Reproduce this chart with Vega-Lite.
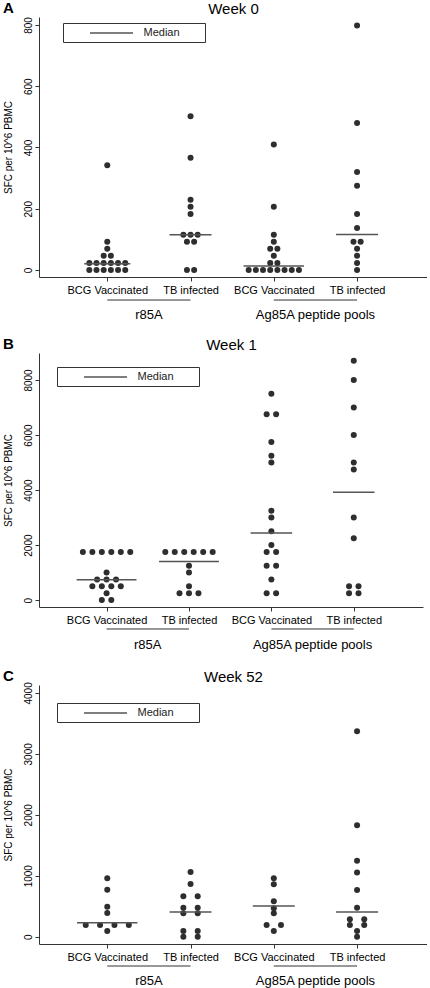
{
"$schema": "https://vega.github.io/schema/vega-lite/v6.json",
"padding": {"left": 3, "top": 1, "right": 0, "bottom": 0},
"autosize": {"type": "pad"},
"config": {
  "font": "Liberation Sans",
  "view": {"stroke": null},
  "axis": {"grid": false, "domainColor": "#333", "tickColor": "#333", "labelColor": "#000", "titleColor": "#000", "titleFontWeight": "normal", "domainWidth": 1, "tickWidth": 1},
  "title": {"color": "#000"}
},
"datasets": {"sfc": [
{"week":"Week 0","antigen":"r85A","cohort":"BCG Vaccinated","sfc":0},
{"week":"Week 0","antigen":"r85A","cohort":"BCG Vaccinated","sfc":0},
{"week":"Week 0","antigen":"r85A","cohort":"BCG Vaccinated","sfc":0},
{"week":"Week 0","antigen":"r85A","cohort":"BCG Vaccinated","sfc":0},
{"week":"Week 0","antigen":"r85A","cohort":"BCG Vaccinated","sfc":0},
{"week":"Week 0","antigen":"r85A","cohort":"BCG Vaccinated","sfc":0},
{"week":"Week 0","antigen":"r85A","cohort":"BCG Vaccinated","sfc":23},
{"week":"Week 0","antigen":"r85A","cohort":"BCG Vaccinated","sfc":23},
{"week":"Week 0","antigen":"r85A","cohort":"BCG Vaccinated","sfc":23},
{"week":"Week 0","antigen":"r85A","cohort":"BCG Vaccinated","sfc":23},
{"week":"Week 0","antigen":"r85A","cohort":"BCG Vaccinated","sfc":23},
{"week":"Week 0","antigen":"r85A","cohort":"BCG Vaccinated","sfc":23},
{"week":"Week 0","antigen":"r85A","cohort":"BCG Vaccinated","sfc":46},
{"week":"Week 0","antigen":"r85A","cohort":"BCG Vaccinated","sfc":46},
{"week":"Week 0","antigen":"r85A","cohort":"BCG Vaccinated","sfc":69},
{"week":"Week 0","antigen":"r85A","cohort":"BCG Vaccinated","sfc":92},
{"week":"Week 0","antigen":"r85A","cohort":"BCG Vaccinated","sfc":342},
{"week":"Week 0","antigen":"r85A","cohort":"TB infected","sfc":0},
{"week":"Week 0","antigen":"r85A","cohort":"TB infected","sfc":0},
{"week":"Week 0","antigen":"r85A","cohort":"TB infected","sfc":92},
{"week":"Week 0","antigen":"r85A","cohort":"TB infected","sfc":92},
{"week":"Week 0","antigen":"r85A","cohort":"TB infected","sfc":115},
{"week":"Week 0","antigen":"r85A","cohort":"TB infected","sfc":115},
{"week":"Week 0","antigen":"r85A","cohort":"TB infected","sfc":115},
{"week":"Week 0","antigen":"r85A","cohort":"TB infected","sfc":183},
{"week":"Week 0","antigen":"r85A","cohort":"TB infected","sfc":206},
{"week":"Week 0","antigen":"r85A","cohort":"TB infected","sfc":229},
{"week":"Week 0","antigen":"r85A","cohort":"TB infected","sfc":366},
{"week":"Week 0","antigen":"r85A","cohort":"TB infected","sfc":502},
{"week":"Week 0","antigen":"Ag85A peptide pools","cohort":"BCG Vaccinated","sfc":0},
{"week":"Week 0","antigen":"Ag85A peptide pools","cohort":"BCG Vaccinated","sfc":0},
{"week":"Week 0","antigen":"Ag85A peptide pools","cohort":"BCG Vaccinated","sfc":0},
{"week":"Week 0","antigen":"Ag85A peptide pools","cohort":"BCG Vaccinated","sfc":0},
{"week":"Week 0","antigen":"Ag85A peptide pools","cohort":"BCG Vaccinated","sfc":0},
{"week":"Week 0","antigen":"Ag85A peptide pools","cohort":"BCG Vaccinated","sfc":0},
{"week":"Week 0","antigen":"Ag85A peptide pools","cohort":"BCG Vaccinated","sfc":0},
{"week":"Week 0","antigen":"Ag85A peptide pools","cohort":"BCG Vaccinated","sfc":0},
{"week":"Week 0","antigen":"Ag85A peptide pools","cohort":"BCG Vaccinated","sfc":23},
{"week":"Week 0","antigen":"Ag85A peptide pools","cohort":"BCG Vaccinated","sfc":23},
{"week":"Week 0","antigen":"Ag85A peptide pools","cohort":"BCG Vaccinated","sfc":46},
{"week":"Week 0","antigen":"Ag85A peptide pools","cohort":"BCG Vaccinated","sfc":69},
{"week":"Week 0","antigen":"Ag85A peptide pools","cohort":"BCG Vaccinated","sfc":69},
{"week":"Week 0","antigen":"Ag85A peptide pools","cohort":"BCG Vaccinated","sfc":92},
{"week":"Week 0","antigen":"Ag85A peptide pools","cohort":"BCG Vaccinated","sfc":115},
{"week":"Week 0","antigen":"Ag85A peptide pools","cohort":"BCG Vaccinated","sfc":206},
{"week":"Week 0","antigen":"Ag85A peptide pools","cohort":"BCG Vaccinated","sfc":410},
{"week":"Week 0","antigen":"Ag85A peptide pools","cohort":"TB infected","sfc":0},
{"week":"Week 0","antigen":"Ag85A peptide pools","cohort":"TB infected","sfc":23},
{"week":"Week 0","antigen":"Ag85A peptide pools","cohort":"TB infected","sfc":46},
{"week":"Week 0","antigen":"Ag85A peptide pools","cohort":"TB infected","sfc":69},
{"week":"Week 0","antigen":"Ag85A peptide pools","cohort":"TB infected","sfc":92},
{"week":"Week 0","antigen":"Ag85A peptide pools","cohort":"TB infected","sfc":92},
{"week":"Week 0","antigen":"Ag85A peptide pools","cohort":"TB infected","sfc":137},
{"week":"Week 0","antigen":"Ag85A peptide pools","cohort":"TB infected","sfc":183},
{"week":"Week 0","antigen":"Ag85A peptide pools","cohort":"TB infected","sfc":275},
{"week":"Week 0","antigen":"Ag85A peptide pools","cohort":"TB infected","sfc":320},
{"week":"Week 0","antigen":"Ag85A peptide pools","cohort":"TB infected","sfc":480},
{"week":"Week 0","antigen":"Ag85A peptide pools","cohort":"TB infected","sfc":798},
{"week":"Week 0","antigen":"r85A","cohort":"BCG Vaccinated","median":20},
{"week":"Week 0","antigen":"r85A","cohort":"TB infected","median":115},
{"week":"Week 0","antigen":"Ag85A peptide pools","cohort":"BCG Vaccinated","median":13},
{"week":"Week 0","antigen":"Ag85A peptide pools","cohort":"TB infected","median":116},
{"week":"Week 1","antigen":"r85A","cohort":"BCG Vaccinated","sfc":0},
{"week":"Week 1","antigen":"r85A","cohort":"BCG Vaccinated","sfc":0},
{"week":"Week 1","antigen":"r85A","cohort":"BCG Vaccinated","sfc":250},
{"week":"Week 1","antigen":"r85A","cohort":"BCG Vaccinated","sfc":500},
{"week":"Week 1","antigen":"r85A","cohort":"BCG Vaccinated","sfc":500},
{"week":"Week 1","antigen":"r85A","cohort":"BCG Vaccinated","sfc":500},
{"week":"Week 1","antigen":"r85A","cohort":"BCG Vaccinated","sfc":500},
{"week":"Week 1","antigen":"r85A","cohort":"BCG Vaccinated","sfc":750},
{"week":"Week 1","antigen":"r85A","cohort":"BCG Vaccinated","sfc":750},
{"week":"Week 1","antigen":"r85A","cohort":"BCG Vaccinated","sfc":750},
{"week":"Week 1","antigen":"r85A","cohort":"BCG Vaccinated","sfc":1000},
{"week":"Week 1","antigen":"r85A","cohort":"BCG Vaccinated","sfc":1750},
{"week":"Week 1","antigen":"r85A","cohort":"BCG Vaccinated","sfc":1750},
{"week":"Week 1","antigen":"r85A","cohort":"BCG Vaccinated","sfc":1750},
{"week":"Week 1","antigen":"r85A","cohort":"BCG Vaccinated","sfc":1750},
{"week":"Week 1","antigen":"r85A","cohort":"BCG Vaccinated","sfc":1750},
{"week":"Week 1","antigen":"r85A","cohort":"BCG Vaccinated","sfc":1750},
{"week":"Week 1","antigen":"r85A","cohort":"TB infected","sfc":250},
{"week":"Week 1","antigen":"r85A","cohort":"TB infected","sfc":250},
{"week":"Week 1","antigen":"r85A","cohort":"TB infected","sfc":250},
{"week":"Week 1","antigen":"r85A","cohort":"TB infected","sfc":500},
{"week":"Week 1","antigen":"r85A","cohort":"TB infected","sfc":1000},
{"week":"Week 1","antigen":"r85A","cohort":"TB infected","sfc":1250},
{"week":"Week 1","antigen":"r85A","cohort":"TB infected","sfc":1750},
{"week":"Week 1","antigen":"r85A","cohort":"TB infected","sfc":1750},
{"week":"Week 1","antigen":"r85A","cohort":"TB infected","sfc":1750},
{"week":"Week 1","antigen":"r85A","cohort":"TB infected","sfc":1750},
{"week":"Week 1","antigen":"r85A","cohort":"TB infected","sfc":1750},
{"week":"Week 1","antigen":"r85A","cohort":"TB infected","sfc":1750},
{"week":"Week 1","antigen":"Ag85A peptide pools","cohort":"BCG Vaccinated","sfc":250},
{"week":"Week 1","antigen":"Ag85A peptide pools","cohort":"BCG Vaccinated","sfc":250},
{"week":"Week 1","antigen":"Ag85A peptide pools","cohort":"BCG Vaccinated","sfc":750},
{"week":"Week 1","antigen":"Ag85A peptide pools","cohort":"BCG Vaccinated","sfc":1250},
{"week":"Week 1","antigen":"Ag85A peptide pools","cohort":"BCG Vaccinated","sfc":1250},
{"week":"Week 1","antigen":"Ag85A peptide pools","cohort":"BCG Vaccinated","sfc":1750},
{"week":"Week 1","antigen":"Ag85A peptide pools","cohort":"BCG Vaccinated","sfc":1750},
{"week":"Week 1","antigen":"Ag85A peptide pools","cohort":"BCG Vaccinated","sfc":2000},
{"week":"Week 1","antigen":"Ag85A peptide pools","cohort":"BCG Vaccinated","sfc":2500},
{"week":"Week 1","antigen":"Ag85A peptide pools","cohort":"BCG Vaccinated","sfc":3000},
{"week":"Week 1","antigen":"Ag85A peptide pools","cohort":"BCG Vaccinated","sfc":3250},
{"week":"Week 1","antigen":"Ag85A peptide pools","cohort":"BCG Vaccinated","sfc":5000},
{"week":"Week 1","antigen":"Ag85A peptide pools","cohort":"BCG Vaccinated","sfc":5250},
{"week":"Week 1","antigen":"Ag85A peptide pools","cohort":"BCG Vaccinated","sfc":5750},
{"week":"Week 1","antigen":"Ag85A peptide pools","cohort":"BCG Vaccinated","sfc":6750},
{"week":"Week 1","antigen":"Ag85A peptide pools","cohort":"BCG Vaccinated","sfc":6750},
{"week":"Week 1","antigen":"Ag85A peptide pools","cohort":"BCG Vaccinated","sfc":7500},
{"week":"Week 1","antigen":"Ag85A peptide pools","cohort":"TB infected","sfc":250},
{"week":"Week 1","antigen":"Ag85A peptide pools","cohort":"TB infected","sfc":250},
{"week":"Week 1","antigen":"Ag85A peptide pools","cohort":"TB infected","sfc":500},
{"week":"Week 1","antigen":"Ag85A peptide pools","cohort":"TB infected","sfc":500},
{"week":"Week 1","antigen":"Ag85A peptide pools","cohort":"TB infected","sfc":2250},
{"week":"Week 1","antigen":"Ag85A peptide pools","cohort":"TB infected","sfc":3000},
{"week":"Week 1","antigen":"Ag85A peptide pools","cohort":"TB infected","sfc":4750},
{"week":"Week 1","antigen":"Ag85A peptide pools","cohort":"TB infected","sfc":5000},
{"week":"Week 1","antigen":"Ag85A peptide pools","cohort":"TB infected","sfc":6000},
{"week":"Week 1","antigen":"Ag85A peptide pools","cohort":"TB infected","sfc":7000},
{"week":"Week 1","antigen":"Ag85A peptide pools","cohort":"TB infected","sfc":8000},
{"week":"Week 1","antigen":"Ag85A peptide pools","cohort":"TB infected","sfc":8700},
{"week":"Week 1","antigen":"r85A","cohort":"BCG Vaccinated","median":740},
{"week":"Week 1","antigen":"r85A","cohort":"TB infected","median":1400},
{"week":"Week 1","antigen":"Ag85A peptide pools","cohort":"BCG Vaccinated","median":2440},
{"week":"Week 1","antigen":"Ag85A peptide pools","cohort":"TB infected","median":3920},
{"week":"Week 52","antigen":"r85A","cohort":"BCG Vaccinated","sfc":95},
{"week":"Week 52","antigen":"r85A","cohort":"BCG Vaccinated","sfc":190},
{"week":"Week 52","antigen":"r85A","cohort":"BCG Vaccinated","sfc":190},
{"week":"Week 52","antigen":"r85A","cohort":"BCG Vaccinated","sfc":190},
{"week":"Week 52","antigen":"r85A","cohort":"BCG Vaccinated","sfc":190},
{"week":"Week 52","antigen":"r85A","cohort":"BCG Vaccinated","sfc":390},
{"week":"Week 52","antigen":"r85A","cohort":"BCG Vaccinated","sfc":490},
{"week":"Week 52","antigen":"r85A","cohort":"BCG Vaccinated","sfc":770},
{"week":"Week 52","antigen":"r85A","cohort":"BCG Vaccinated","sfc":960},
{"week":"Week 52","antigen":"r85A","cohort":"TB infected","sfc":0},
{"week":"Week 52","antigen":"r85A","cohort":"TB infected","sfc":0},
{"week":"Week 52","antigen":"r85A","cohort":"TB infected","sfc":95},
{"week":"Week 52","antigen":"r85A","cohort":"TB infected","sfc":95},
{"week":"Week 52","antigen":"r85A","cohort":"TB infected","sfc":385},
{"week":"Week 52","antigen":"r85A","cohort":"TB infected","sfc":385},
{"week":"Week 52","antigen":"r85A","cohort":"TB infected","sfc":475},
{"week":"Week 52","antigen":"r85A","cohort":"TB infected","sfc":475},
{"week":"Week 52","antigen":"r85A","cohort":"TB infected","sfc":665},
{"week":"Week 52","antigen":"r85A","cohort":"TB infected","sfc":665},
{"week":"Week 52","antigen":"r85A","cohort":"TB infected","sfc":865},
{"week":"Week 52","antigen":"r85A","cohort":"TB infected","sfc":1060},
{"week":"Week 52","antigen":"Ag85A peptide pools","cohort":"BCG Vaccinated","sfc":95},
{"week":"Week 52","antigen":"Ag85A peptide pools","cohort":"BCG Vaccinated","sfc":190},
{"week":"Week 52","antigen":"Ag85A peptide pools","cohort":"BCG Vaccinated","sfc":190},
{"week":"Week 52","antigen":"Ag85A peptide pools","cohort":"BCG Vaccinated","sfc":385},
{"week":"Week 52","antigen":"Ag85A peptide pools","cohort":"BCG Vaccinated","sfc":465},
{"week":"Week 52","antigen":"Ag85A peptide pools","cohort":"BCG Vaccinated","sfc":580},
{"week":"Week 52","antigen":"Ag85A peptide pools","cohort":"BCG Vaccinated","sfc":860},
{"week":"Week 52","antigen":"Ag85A peptide pools","cohort":"BCG Vaccinated","sfc":960},
{"week":"Week 52","antigen":"Ag85A peptide pools","cohort":"TB infected","sfc":0},
{"week":"Week 52","antigen":"Ag85A peptide pools","cohort":"TB infected","sfc":95},
{"week":"Week 52","antigen":"Ag85A peptide pools","cohort":"TB infected","sfc":190},
{"week":"Week 52","antigen":"Ag85A peptide pools","cohort":"TB infected","sfc":190},
{"week":"Week 52","antigen":"Ag85A peptide pools","cohort":"TB infected","sfc":285},
{"week":"Week 52","antigen":"Ag85A peptide pools","cohort":"TB infected","sfc":285},
{"week":"Week 52","antigen":"Ag85A peptide pools","cohort":"TB infected","sfc":475},
{"week":"Week 52","antigen":"Ag85A peptide pools","cohort":"TB infected","sfc":765},
{"week":"Week 52","antigen":"Ag85A peptide pools","cohort":"TB infected","sfc":1055},
{"week":"Week 52","antigen":"Ag85A peptide pools","cohort":"TB infected","sfc":1245},
{"week":"Week 52","antigen":"Ag85A peptide pools","cohort":"TB infected","sfc":1830},
{"week":"Week 52","antigen":"Ag85A peptide pools","cohort":"TB infected","sfc":3370},
{"week":"Week 52","antigen":"r85A","cohort":"BCG Vaccinated","median":230},
{"week":"Week 52","antigen":"r85A","cohort":"TB infected","median":405},
{"week":"Week 52","antigen":"Ag85A peptide pools","cohort":"BCG Vaccinated","median":505},
{"week":"Week 52","antigen":"Ag85A peptide pools","cohort":"TB infected","median":405}
]},
"data": {"name": "sfc"},
"spacing": 0,
"bounds": "flush",
"resolve": {"scale": {"x": "independent", "y": "independent", "stroke": "independent"}, "legend": {"stroke": "independent"}, "axis": {"x": "independent", "y": "independent"}},
"vconcat": [
{
 "width": 388, "height": 260,
 "title": {"text": "A", "anchor": "start", "frame": "bounds", "fontSize": 15, "fontWeight": "bold", "offset": -15},
 "transform": [{"filter": "datum.week === 'Week 0'"}, {"calculate": "(datum.antigen === 'r85A' ? 0 : 2) + (datum.cohort === 'BCG Vaccinated' ? 1 : 2)", "as": "gi"}],
 "layer": [
  {
   "transform": [
     {"filter": "isValid(datum.sfc)"},
     {"joinaggregate": [{"op": "count", "as": "n"}], "groupby": ["gi", "sfc"]},
     {"window": [{"op": "row_number", "as": "k"}], "groupby": ["gi", "sfc"]},
     {"joinaggregate": [{"op": "max", "field": "n", "as": "pmax"}]},
     {"calculate": "datum.gi + (datum.k - (datum.n + 1) / 2) * 0.69 / datum.pmax", "as": "xpos"}
   ],
   "mark": {"type": "circle", "size": 36, "color": "#2e2e2e", "opacity": 1},
   "encoding": {
     "x": {"field": "xpos", "type": "quantitative", "scale": {"domain": [0.18, 4.84]}, "axis": {"orient": "bottom", "values": [1,2,3,4], "labelExpr": "datum.value % 2 === 1 ? 'BCG Vaccinated' : 'TB infected'", "labelFontSize": 11, "tickSize": 4, "labelPadding": 3, "labelAngle": 0, "labelOverlap": false, "labelFlush": false, "title": null}},
     "y": {"field": "sfc", "type": "quantitative", "scale": {"domain": [-23, 826]}, "axis": {"values": [0,200,400,600,800], "format": "d", "labelAngle": -90, "labelAlign": "center", "labelBaseline": "alphabetic", "labelFontSize": 10, "labelPadding": 4, "tickSize": 4, "title": "SFC per 10^6 PBMC", "titleFontSize": 10, "titlePadding": 8, "minExtent": 18, "maxExtent": 18}}
   }
  },
  {
   "transform": [
     {"joinaggregate": [{"op": "count", "as": "n"}], "groupby": ["gi", "sfc"]},
     {"joinaggregate": [{"op": "max", "field": "n", "as": "gmax"}], "groupby": ["gi"]},
     {"joinaggregate": [{"op": "max", "field": "n", "as": "pmax"}]},
     {"filter": "isValid(datum.median)"},
     {"calculate": "max(21, datum.gmax * 57.5 / datum.pmax / 2 + 1.5) / 83.3", "as": "hw"},
     {"calculate": "datum.gi - datum.hw", "as": "xa"},
     {"calculate": "datum.gi + datum.hw", "as": "xb"}
   ],
   "mark": {"type": "rule", "strokeWidth": 1.5},
   "encoding": {
     "x": {"field": "xa", "type": "quantitative", "scale": {"domain": [0.18, 4.84]}, "axis": {"orient": "top", "domain": false, "ticks": false, "labels": false, "title": "Week 0", "titleFontSize": 15, "titlePadding": 1}},
     "x2": {"field": "xb"},
     "y": {"field": "median", "type": "quantitative", "scale": {"domain": [-23, 826]}},
     "stroke": {"datum": "Median", "type": "nominal", "scale": {"range": ["#555"]}, "legend": {"orient": "none", "legendX": 24, "legendY": 6, "title": " ", "titleOrient": "right", "titlePadding": 21, "symbolType": "M-4.3,0H4.3", "symbolSize": 100, "symbolStrokeWidth": 1.5, "symbolStrokeColor": "#555", "symbolOffset": 38.5, "labelOffset": 26, "labelFontSize": 11, "labelColor": "#222", "padding": 4, "strokeColor": "#333", "fillColor": "#fff"}}
   }
  }
 ],
 "resolve": {"axis": {"x": "independent"}}
},
{
 "width": 388, "height": 76,
 "transform": [
   {"filter": "datum.week === 'Week 0' && isValid(datum.sfc)"},
   {"calculate": "(datum.antigen === 'r85A' ? 0 : 2) + (datum.cohort === 'BCG Vaccinated' ? 1 : 2)", "as": "gi"},
   {"aggregate": [{"op": "min", "field": "gi", "as": "g1"}, {"op": "max", "field": "gi", "as": "g2"}], "groupby": ["antigen"]},
   {"calculate": "(datum.g1 + datum.g2) / 2", "as": "mid"}
 ],
 "layer": [
   {"mark": {"type": "rule", "color": "#333", "strokeWidth": 1},
    "encoding": {"x": {"field": "g1", "type": "quantitative", "scale": {"domain": [0.18, 4.84]}, "axis": null},
                 "x2": {"field": "g2"},
                 "y": {"datum": 0.697, "type": "quantitative", "scale": {"domain": [0, 1]}, "axis": null}}},
   {"mark": {"type": "text", "fontSize": 13, "color": "#000", "baseline": "middle"},
    "encoding": {"x": {"field": "mid", "type": "quantitative", "scale": {"domain": [0.18, 4.84]}, "axis": null},
                 "y": {"datum": 0.5, "type": "quantitative", "scale": {"domain": [0, 1]}, "axis": null},
                 "text": {"field": "antigen"}}}
 ]
},
{
 "width": 384, "height": 254,
 "title": {"text": "B", "anchor": "start", "frame": "bounds", "fontSize": 15, "fontWeight": "bold", "offset": -15},
 "transform": [{"filter": "datum.week === 'Week 1'"}, {"calculate": "(datum.antigen === 'r85A' ? 0 : 2) + (datum.cohort === 'BCG Vaccinated' ? 1 : 2)", "as": "gi"}],
 "layer": [
  {
   "transform": [
     {"filter": "isValid(datum.sfc)"},
     {"joinaggregate": [{"op": "count", "as": "n"}], "groupby": ["gi", "sfc"]},
     {"window": [{"op": "row_number", "as": "k"}], "groupby": ["gi", "sfc"]},
     {"joinaggregate": [{"op": "max", "field": "n", "as": "pmax"}]},
     {"calculate": "datum.gi + (datum.k - (datum.n + 1) / 2) * 0.69 / datum.pmax", "as": "xpos"}
   ],
   "mark": {"type": "circle", "size": 36, "color": "#2e2e2e", "opacity": 1},
   "encoding": {
     "x": {"field": "xpos", "type": "quantitative", "scale": {"domain": [0.18, 4.84]}, "axis": {"orient": "bottom", "values": [1,2,3,4], "labelExpr": "datum.value % 2 === 1 ? 'BCG Vaccinated' : 'TB infected'", "labelFontSize": 11, "tickSize": 4, "labelPadding": 3, "labelAngle": 0, "labelOverlap": false, "labelFlush": false, "title": null}},
     "y": {"field": "sfc", "type": "quantitative", "scale": {"domain": [-250, 8980]}, "axis": {"values": [0,2000,4000,6000,8000], "format": "d", "labelAngle": -90, "labelAlign": "center", "labelBaseline": "alphabetic", "labelFontSize": 10, "labelPadding": 4, "tickSize": 4, "title": "SFC per 10^6 PBMC", "titleFontSize": 10, "titlePadding": 8, "minExtent": 18, "maxExtent": 18}}
   }
  },
  {
   "transform": [
     {"joinaggregate": [{"op": "count", "as": "n"}], "groupby": ["gi", "sfc"]},
     {"joinaggregate": [{"op": "max", "field": "n", "as": "gmax"}], "groupby": ["gi"]},
     {"joinaggregate": [{"op": "max", "field": "n", "as": "pmax"}]},
     {"filter": "isValid(datum.median)"},
     {"calculate": "max(21, datum.gmax * 57.5 / datum.pmax / 2 + 1.5) / 83.3", "as": "hw"},
     {"calculate": "datum.gi - datum.hw", "as": "xa"},
     {"calculate": "datum.gi + datum.hw", "as": "xb"}
   ],
   "mark": {"type": "rule", "strokeWidth": 1.5},
   "encoding": {
     "x": {"field": "xa", "type": "quantitative", "scale": {"domain": [0.18, 4.84]}, "axis": {"orient": "top", "domain": false, "ticks": false, "labels": false, "title": "Week 1", "titleFontSize": 15, "titlePadding": 1}},
     "x2": {"field": "xb"},
     "y": {"field": "median", "type": "quantitative", "scale": {"domain": [-250, 8980]}},
     "stroke": {"datum": "Median", "type": "nominal", "scale": {"range": ["#555"]}, "legend": {"orient": "none", "legendX": 18, "legendY": 14, "title": " ", "titleOrient": "right", "titlePadding": 21, "symbolType": "M-4.3,0H4.3", "symbolSize": 100, "symbolStrokeWidth": 1.5, "symbolStrokeColor": "#555", "symbolOffset": 38.5, "labelOffset": 26, "labelFontSize": 11, "labelColor": "#222", "padding": 4, "strokeColor": "#333", "fillColor": "#fff"}}
   }
  }
 ],
 "resolve": {"axis": {"x": "independent"}}
},
{
 "width": 384, "height": 78,
 "transform": [
   {"filter": "datum.week === 'Week 1' && isValid(datum.sfc)"},
   {"calculate": "(datum.antigen === 'r85A' ? 0 : 2) + (datum.cohort === 'BCG Vaccinated' ? 1 : 2)", "as": "gi"},
   {"aggregate": [{"op": "min", "field": "gi", "as": "g1"}, {"op": "max", "field": "gi", "as": "g2"}], "groupby": ["antigen"]},
   {"calculate": "(datum.g1 + datum.g2) / 2", "as": "mid"}
 ],
 "layer": [
   {"mark": {"type": "rule", "color": "#333", "strokeWidth": 1},
    "encoding": {"x": {"field": "g1", "type": "quantitative", "scale": {"domain": [0.18, 4.84]}, "axis": null},
                 "x2": {"field": "g2"},
                 "y": {"datum": 0.718, "type": "quantitative", "scale": {"domain": [0, 1]}, "axis": null}}},
   {"mark": {"type": "text", "fontSize": 13, "color": "#000", "baseline": "middle"},
    "encoding": {"x": {"field": "mid", "type": "quantitative", "scale": {"domain": [0.18, 4.84]}, "axis": null},
                 "y": {"datum": 0.513, "type": "quantitative", "scale": {"domain": [0, 1]}, "axis": null},
                 "text": {"field": "antigen"}}}
 ]
},
{
 "width": 388, "height": 259,
 "title": {"text": "C", "anchor": "start", "frame": "bounds", "fontSize": 15, "fontWeight": "bold", "offset": -15},
 "transform": [{"filter": "datum.week === 'Week 52'"}, {"calculate": "(datum.antigen === 'r85A' ? 0 : 2) + (datum.cohort === 'BCG Vaccinated' ? 1 : 2)", "as": "gi"}],
 "layer": [
  {
   "transform": [
     {"filter": "isValid(datum.sfc)"},
     {"joinaggregate": [{"op": "count", "as": "n"}], "groupby": ["gi", "sfc"]},
     {"window": [{"op": "row_number", "as": "k"}], "groupby": ["gi", "sfc"]},
     {"joinaggregate": [{"op": "max", "field": "n", "as": "pmax"}]},
     {"calculate": "datum.gi + (datum.k - (datum.n + 1) / 2) * 0.69 / datum.pmax", "as": "xpos"}
   ],
   "mark": {"type": "circle", "size": 36, "color": "#2e2e2e", "opacity": 1},
   "encoding": {
     "x": {"field": "xpos", "type": "quantitative", "scale": {"domain": [0.18, 4.84]}, "axis": {"orient": "bottom", "values": [1,2,3,4], "labelExpr": "datum.value % 2 === 1 ? 'BCG Vaccinated' : 'TB infected'", "labelFontSize": 11, "tickSize": 4, "labelPadding": 3, "labelAngle": 0, "labelOverlap": false, "labelFlush": false, "title": null}},
     "y": {"field": "sfc", "type": "quantitative", "scale": {"domain": [-120, 4130]}, "axis": {"values": [0,1000,2000,3000,4000], "format": "d", "labelAngle": -90, "labelAlign": "center", "labelBaseline": "alphabetic", "labelFontSize": 10, "labelPadding": 4, "tickSize": 4, "title": "SFC per 10^6 PBMC", "titleFontSize": 10, "titlePadding": 8, "minExtent": 18, "maxExtent": 18}}
   }
  },
  {
   "transform": [
     {"joinaggregate": [{"op": "count", "as": "n"}], "groupby": ["gi", "sfc"]},
     {"joinaggregate": [{"op": "max", "field": "n", "as": "gmax"}], "groupby": ["gi"]},
     {"joinaggregate": [{"op": "max", "field": "n", "as": "pmax"}]},
     {"filter": "isValid(datum.median)"},
     {"calculate": "max(21, datum.gmax * 57.5 / datum.pmax / 2 + 1.5) / 83.3", "as": "hw"},
     {"calculate": "datum.gi - datum.hw", "as": "xa"},
     {"calculate": "datum.gi + datum.hw", "as": "xb"}
   ],
   "mark": {"type": "rule", "strokeWidth": 1.5},
   "encoding": {
     "x": {"field": "xa", "type": "quantitative", "scale": {"domain": [0.18, 4.84]}, "axis": {"orient": "top", "domain": false, "ticks": false, "labels": false, "title": "Week 52", "titleFontSize": 15, "titlePadding": 1}},
     "x2": {"field": "xb"},
     "y": {"field": "median", "type": "quantitative", "scale": {"domain": [-120, 4130]}},
     "stroke": {"datum": "Median", "type": "nominal", "scale": {"range": ["#555"]}, "legend": {"orient": "none", "legendX": 18, "legendY": 18, "title": " ", "titleOrient": "right", "titlePadding": 21, "symbolType": "M-4.3,0H4.3", "symbolSize": 100, "symbolStrokeWidth": 1.5, "symbolStrokeColor": "#555", "symbolOffset": 38.5, "labelOffset": 26, "labelFontSize": 11, "labelColor": "#222", "padding": 4, "strokeColor": "#333", "fillColor": "#fff"}}
   }
  }
 ],
 "resolve": {"axis": {"x": "independent"}}
},
{
 "width": 388, "height": 44,
 "transform": [
   {"filter": "datum.week === 'Week 52' && isValid(datum.sfc)"},
   {"calculate": "(datum.antigen === 'r85A' ? 0 : 2) + (datum.cohort === 'BCG Vaccinated' ? 1 : 2)", "as": "gi"},
   {"aggregate": [{"op": "min", "field": "gi", "as": "g1"}, {"op": "max", "field": "gi", "as": "g2"}], "groupby": ["antigen"]},
   {"calculate": "(datum.g1 + datum.g2) / 2", "as": "mid"}
 ],
 "layer": [
   {"mark": {"type": "rule", "color": "#333", "strokeWidth": 1},
    "encoding": {"x": {"field": "g1", "type": "quantitative", "scale": {"domain": [0.18, 4.84]}, "axis": null},
                 "x2": {"field": "g2"},
                 "y": {"datum": 0.5, "type": "quantitative", "scale": {"domain": [0, 1]}, "axis": null}}},
   {"mark": {"type": "text", "fontSize": 13, "color": "#000", "baseline": "middle"},
    "encoding": {"x": {"field": "mid", "type": "quantitative", "scale": {"domain": [0.18, 4.84]}, "axis": null},
                 "y": {"datum": 0.159, "type": "quantitative", "scale": {"domain": [0, 1]}, "axis": null},
                 "text": {"field": "antigen"}}}
 ]
}
]
}
